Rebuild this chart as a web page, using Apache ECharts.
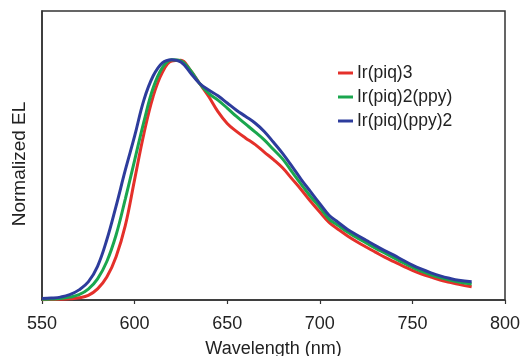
<!DOCTYPE html>
<html>
<head>
<meta charset="utf-8">
<script src="https://cdn.jsdelivr.net/npm/echarts@6/dist/echarts.min.js"></script>
<style>
html,body{margin:0;padding:0;background:#fff;}
#chart{width:527px;height:356px;}
</style>
</head>
<body>
<div id="chart"></div>
<script>
const wavelengths = [550,555,560,565,570,575,580,585,590,595,600,605,610,615,620,625,630,635,640,645,650,655,660,665,670,675,680,685,690,695,700,705,710,715,720,725,730,735,740,745,750,755,760,765,770,775,782];
const seriesNames = ['Ir(piq)3','Ir(piq)2(ppy)','Ir(piq)(ppy)2'];
const irPiq3 = [0.001,0.002,0.003,0.005,0.009,0.019,0.046,0.095,0.180,0.310,0.500,0.690,0.845,0.945,0.992,0.995,0.955,0.900,0.845,0.782,0.733,0.700,0.672,0.646,0.614,0.583,0.548,0.503,0.458,0.410,0.365,0.322,0.293,0.266,0.242,0.220,0.199,0.178,0.159,0.141,0.123,0.108,0.095,0.083,0.074,0.065,0.055];
const irPiq2Ppy = [0.003,0.004,0.006,0.012,0.022,0.045,0.088,0.160,0.270,0.420,0.580,0.740,0.880,0.965,0.998,0.993,0.955,0.900,0.858,0.830,0.797,0.762,0.730,0.698,0.665,0.625,0.585,0.532,0.480,0.430,0.385,0.336,0.309,0.282,0.259,0.237,0.215,0.195,0.175,0.155,0.136,0.119,0.105,0.093,0.083,0.075,0.066];
const irPiqPpy2 = [0.006,0.008,0.012,0.022,0.042,0.075,0.140,0.250,0.390,0.540,0.680,0.830,0.930,0.985,0.998,0.988,0.945,0.900,0.872,0.848,0.818,0.788,0.762,0.735,0.700,0.655,0.608,0.555,0.500,0.450,0.400,0.352,0.322,0.293,0.270,0.248,0.226,0.205,0.186,0.165,0.145,0.128,0.113,0.100,0.090,0.082,0.076];
const xTicks = [550,600,650,700,750,800];

const colors = ['#e4302a','#1aa64e','#2d3c9c'];
const values = [irPiq3, irPiq2Ppy, irPiqPpy2];
const font = 'Liberation Sans, Arial, sans-serif';

const chart = echarts.init(document.getElementById('chart'), null, {renderer:'canvas'});
chart.setOption({
  animation:false,
  backgroundColor:'#ffffff',
  grid:{left:42,right:22,top:11,bottom:56,containLabel:false,outerBoundsMode:'none',show:true,borderColor:'#333',borderWidth:1.5,backgroundColor:'transparent'},
  legend:{
    orient:'vertical',left:338,top:63,padding:0,itemWidth:15,itemHeight:3,itemGap:4,icon:'rect',
    textStyle:{fontFamily:font,fontSize:17.5,color:'#222',lineHeight:20,padding:[0,0,0,-1]},
    data:seriesNames
  },
  graphic:[{
    type:'text',x:29,y:164,rotation:Math.PI/2,
    style:{text:'Normalized EL',textAlign:'center',textVerticalAlign:'bottom',font:'19px Liberation Sans, Arial, sans-serif',fill:'#222'}
  }],
  xAxis:{
    type:'value',min:xTicks[0],max:xTicks[xTicks.length-1],interval:50,
    name:'Wavelength (nm)',nameLocation:'middle',nameGap:40,
    nameTextStyle:{fontFamily:font,fontSize:18,color:'#222'},
    axisLine:{show:true,lineStyle:{color:'#333',width:1.5}},
    axisTick:{show:true,length:4,lineStyle:{color:'#333',width:1.2}},
    axisLabel:{fontFamily:font,fontSize:18,color:'#222',margin:15},
    splitLine:{show:false}
  },
  yAxis:{
    type:'value',min:0,max:1.2,
    axisLine:{show:true,lineStyle:{color:'#333',width:1.5}},
    axisTick:{show:false},axisLabel:{show:false},splitLine:{show:false}
  },
  series: seriesNames.map((n,i)=>({
    name:n,type:'line',smooth:0.4,showSymbol:false,
    data: wavelengths.map((w,j)=>[w, values[i][j]]),
    lineStyle:{color:colors[i],width:3},
    itemStyle:{color:colors[i]}
  }))
});
</script>
</body>
</html>
